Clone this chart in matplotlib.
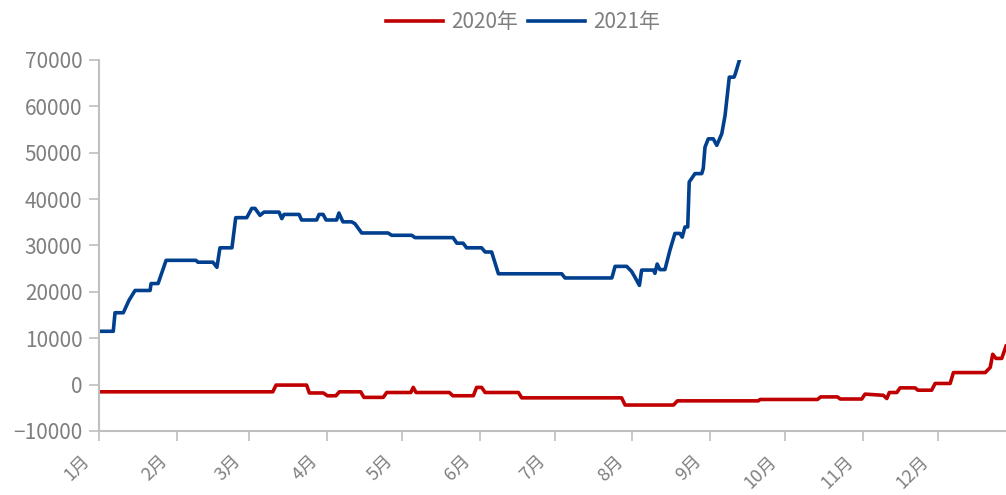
import numpy as np
import matplotlib
matplotlib.use("Agg")
import matplotlib.pyplot as plt
from matplotlib.transforms import ScaledTranslation

plt.rcParams['font.family'] = ['Noto Sans CJK SC', 'DejaVu Sans']

# jours depuis le 1er janvier (abscisse) et valeurs
mois = ['1月', '2月', '3月', '4月', '5月', '6月', '7月', '8月', '9月', '10月', '11月', '12月']
debut_mois = [0, 31, 60, 91, 121, 152, 182, 213, 244, 274, 305, 335]

jours_2020 = [0, 69.4, 70.7, 82.9, 84.0, 89.6, 91.2, 94.6, 96.0, 104.5, 105.8, 113.5, 114.9,
              124.5, 125.5, 126.6, 139.9, 141.3, 149.5, 150.8, 152.8, 154.2, 167.5, 168.8,
              208.7, 210.1, 229.4, 231.0, 263.3, 264.0, 286.9, 288.2, 294.9, 296.0, 304.6,
              305.9, 313.2, 314.6, 315.6, 318.6, 319.9, 325.9, 327.0, 332.5, 333.9, 339.9,
              341.2, 353.9, 355.9, 356.9, 358.2, 360.5, 362.2]
valeurs_2020 = [-1550, -1550, -100, -100, -1800, -1800, -2400, -2400, -1550, -1550, -2750, -2750, -1700,
                -1700, -600, -1700, -1700, -2400, -2400, -600, -600, -1700, -1700, -2850,
                -2850, -4400, -4400, -3500, -3500, -3200, -3200, -2650, -2650, -3100, -3100,
                -2050, -2300, -3000, -1700, -1700, -700, -700, -1200, -1200, 250, 250,
                2600, 2600, 3700, 6550, 5650, 5650, 8300]

jours_2021 = [0, 5.7, 6.4, 9.7, 12.0, 14.4, 20.4, 20.8, 23.6, 26.8, 38.7, 39.5, 45.5, 47.1,
              48.3, 53.1, 54.6, 59.0, 61.0, 62.3, 64.3, 65.9, 71.9, 73.0, 73.9, 79.9, 80.9,
              86.9, 87.9, 89.5, 90.7, 94.9, 95.8, 97.4, 100.9, 102.2, 104.9, 115.4, 116.9,
              124.9, 126.2, 141.4, 142.9, 145.4, 146.8, 152.8, 154.2, 156.8, 159.5, 184.8,
              186.1, 204.8, 206.1, 210.7, 212.7, 214.1, 215.8, 216.7, 221.4, 222.0, 222.9,
              224.0, 226.0, 228.0, 230.0, 232.0, 232.9, 234.0, 235.1, 235.7, 238.0, 240.7,
              241.3, 242.0, 243.3, 245.3, 246.7, 248.7, 250.0, 251.7, 253.6, 254.1, 255.7]
valeurs_2021 = [11500, 11500, 15500, 15500, 18200, 20300, 20300, 21800, 21800, 26800, 26800, 26400, 26400, 25300,
                29500, 29500, 36000, 36000, 38000, 38000, 36500, 37200, 37200, 35800, 36700, 36700, 35500,
                35500, 36700, 36700, 35500, 35500, 37000, 35100, 35100, 34700, 32700, 32700, 32200,
                32200, 31700, 31700, 30500, 30500, 29500, 29500, 28600, 28600, 23900, 23900,
                23000, 23000, 25500, 25500, 24400, 23100, 21400, 24700, 24700, 24000, 26000,
                24800, 24800, 29000, 32600, 32600, 31800, 34000, 34000, 43700, 45500, 45500,
                46600, 51200, 53000, 53000, 51600, 54100, 58000, 66300, 66300, 67000, 69900]

gris = '#7F7F7F'
gris_axe = '#BFBFBF'

fig = plt.figure(figsize=(10.06, 4.95), dpi=100)
ax = fig.add_axes([0.0984, 0.1293, 0.9016, 0.7495])

ax.plot(jours_2020, valeurs_2020, color='#C00000', lw=2.6, label='2020年')
ax.plot(jours_2021, valeurs_2021, color='#00408F', lw=2.6, label='2021年')

ax.set_xlim(0, 362.2)
ax.set_ylim(-10000, 70000)
ax.set_yticks(np.arange(-10000, 70001, 10000))
ax.set_xticks(debut_mois)
ax.set_xticklabels([])

# étiquettes des mois, inclinées et décalées vers la gauche du trait
decalage = ScaledTranslation(-0.18, -0.21, fig.dpi_scale_trans)
for j, m in zip(debut_mois, mois):
    ax.text(j, 0, m, transform=ax.get_xaxis_transform() + decalage, rotation=45,
            ha='right', va='top', rotation_mode='anchor', fontsize=13, color=gris, clip_on=False)

for s in ['top', 'right']:
    ax.spines[s].set_visible(False)
for s in ['left', 'bottom']:
    ax.spines[s].set_color(gris_axe)
    ax.spines[s].set_linewidth(1.5)

ax.tick_params(axis='y', colors=gris_axe, labelcolor=gris, labelsize=15, length=7, width=1.2, pad=5)
ax.tick_params(axis='x', colors=gris_axe, length=7, width=1.2)

fig.legend(loc='upper center', bbox_to_anchor=(0.52, 1.015), ncol=2, frameon=False,
           fontsize=15, labelcolor=gris, handlelength=2.7, columnspacing=0.5, handletextpad=0.4)

fig.savefig('out.png', dpi=100)
